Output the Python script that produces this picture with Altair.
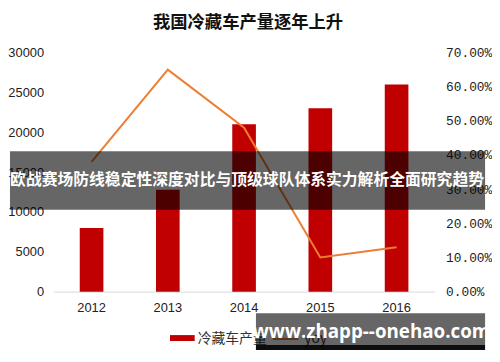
import altair as alt
import pandas as pd

# ---- data ----
years = ["2012", "2013", "2014", "2015", "2016"]
production = [8000, 12800, 21000, 23000, 26000]          # 冷藏车产量 (left axis)
yoy = [0.38, 0.65, 0.48, 0.10, 0.13]                      # 增长率 yoy (right axis)
series_names = ["冷藏车产量", "yoy"]
series_colors = ["#C00000", "#ED7D31"]
title_text = "我国冷藏车产量逐年上升"
banner_text = "欧战赛场防线稳定性深度对比与顶级球队体系实力解析全面研究趋势"
watermark_text = "www.zhapp--onehao.com"

df = pd.DataFrame({"year": years, "production": production, "yoy": yoy})
one = pd.DataFrame({"k": [0]})

W, H = 386, 242

x_enc = alt.X("year:N", sort=years, title=None,
              scale=alt.Scale(paddingInner=0.69, paddingOuter=0.345),
              axis=alt.Axis(labelAngle=0, ticks=False, domain=True, domainColor="#D9D9D9",
                            labelFont="Liberation Sans", labelFontSize=13, labelColor="#222",
                            labelPadding=10))

bars = alt.Chart(df).mark_bar(color=series_colors[0]).encode(
    x=x_enc,
    y=alt.Y("production:Q", title=None,
            scale=alt.Scale(domain=[0, 30000], nice=False),
            axis=alt.Axis(values=[0, 5000, 10000, 15000, 20000, 25000, 30000], grid=False,
                          ticks=False, domain=False, format="d",
                          labelFont="Liberation Sans", labelFontSize=13, labelColor="#222",
                          labelPadding=10)),
)

line = alt.Chart(df).mark_line(color=series_colors[1], strokeWidth=2).encode(
    x=alt.X("year:N", sort=years),
    y=alt.Y("yoy:Q", title=None,
            scale=alt.Scale(domain=[0, 0.7], nice=False),
            axis=alt.Axis(orient="right", values=[0, 0.1, 0.2, 0.3, 0.4, 0.5, 0.6, 0.7],
                          format=".2%", grid=False, ticks=False, domain=False,
                          labelFont="Liberation Mono", labelFontSize=13, labelColor="#222",
                          labelPadding=11)),
)

main = alt.layer(bars, line).resolve_scale(y="independent")

# title
title = alt.Chart(one).mark_text(
    text=title_text, font="Noto Sans CJK SC", fontSize=17.5, fontWeight="bold",
    color="#111", align="center", baseline="middle"
).encode(x=alt.value(197), y=alt.value(-30))

# manual legend
leg_sq = alt.Chart(one).mark_rect(color=series_colors[0]).encode(
    x=alt.value(118), x2=alt.value(143), y=alt.value(286), y2=alt.value(292))
leg_t1 = alt.Chart(one).mark_text(
    text=series_names[0], font="Noto Sans CJK SC", fontSize=14, color="#333",
    align="left", baseline="middle").encode(x=alt.value(146), y=alt.value(290))
leg_ln = alt.Chart(one).mark_rule(color=series_colors[1], strokeWidth=2).encode(
    x=alt.value(222), x2=alt.value(248), y=alt.value(290))
leg_t2 = alt.Chart(one).mark_text(
    text=series_names[1], font="Noto Sans CJK SC", fontSize=14, color="#333",
    align="left", baseline="middle").encode(x=alt.value(254), y=alt.value(290))

# banner overlay
banner = alt.Chart(one).mark_rect(color="black", opacity=0.6).encode(
    x=alt.value(-44), x2=alt.value(437), y=alt.value(100), y2=alt.value(159))
banner_t = alt.Chart(one).mark_text(
    text=banner_text, font="Noto Sans CJK SC", fontSize=16, fontWeight="bold",
    color="white", align="center", baseline="middle").encode(x=alt.value(196), y=alt.value(129))

# watermark
wm = alt.Chart(one).mark_rect(color="black", opacity=0.6).encode(
    x=alt.value(205), x2=alt.value(437), y=alt.value(264), y2=alt.value(296))
wm2 = alt.Chart(one).mark_rect(color="black", opacity=0.95).encode(
    x=alt.value(205), x2=alt.value(437), y=alt.value(296), y2=alt.value(301))
wm_t = alt.Chart(one).mark_text(
    text=watermark_text, font="Open Sans", fontSize=19, fontWeight="bold",
    color="white", align="center", baseline="middle").encode(x=alt.value(322), y=alt.value(283))

chart = alt.layer(
    main, title, leg_sq, leg_t1, leg_ln, leg_t2, banner, banner_t, wm, wm2, wm_t
).properties(
    width=W, height=H,
    autosize=alt.AutoSizeParams(type="none"),
    padding={"left": 46, "top": 43, "right": 58, "bottom": 61},
    background="white",
).configure_view(stroke=None)

chart.save("out.html", embed_options={"renderer": "svg", "actions": False})
